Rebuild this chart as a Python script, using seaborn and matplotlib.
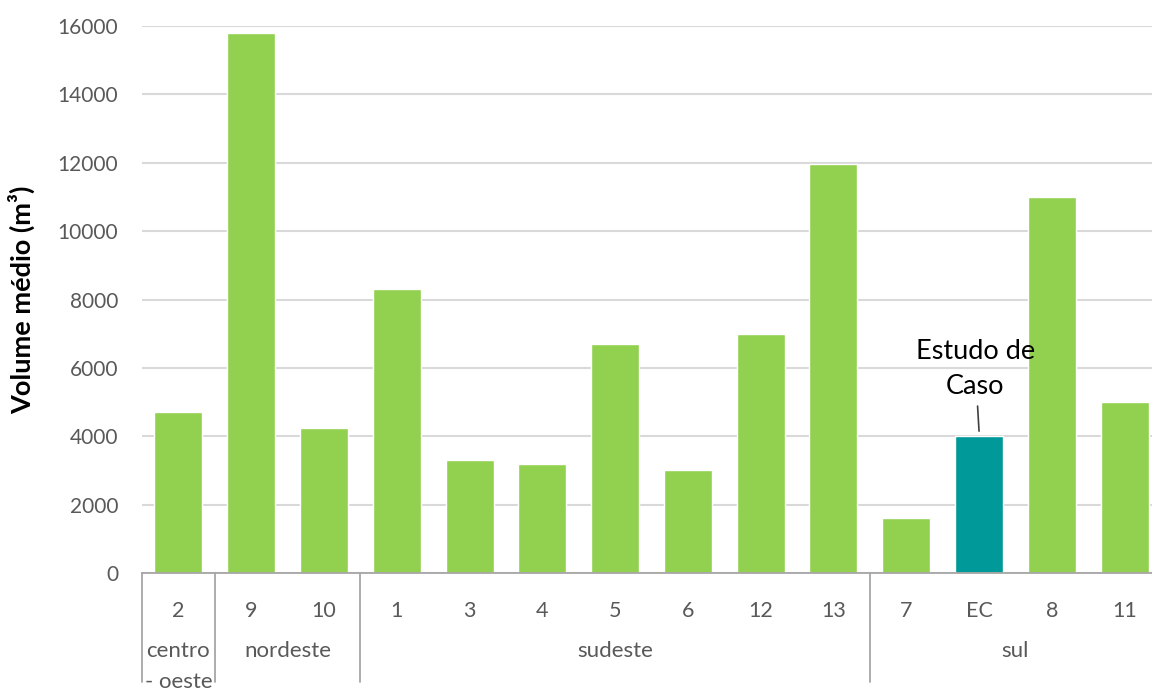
import pandas as pd
import matplotlib.pyplot as plt
import matplotlib.transforms as mtransforms
import seaborn as sns

# Chart data
categorias = ['2', '9', '10', '1', '3', '4', '5', '6', '12', '13', '7', 'EC', '8', '11']
volumes = [4700, 15800, 4250, 8300, 3300, 3200, 6700, 3000, 7000, 11950, 1600, 4000, 11000, 5000]
regioes = ['centro\n- oeste', 'nordeste', 'sudeste', 'sul']
n_por_regiao = [1, 2, 7, 4]
yticks = [0, 2000, 4000, 6000, 8000, 10000, 12000, 14000, 16000]

df = pd.DataFrame({'cat': categorias, 'vol': volumes})
df['tipo'] = ['caso' if c == 'EC' else 'outro' for c in categorias]

sns.set_style('white')
plt.rcParams['font.family'] = ['Lato', 'DejaVu Sans']

fig = plt.figure(figsize=(11.52, 6.88), dpi=100)
# plot area runs a little past the right edge of the picture, as in the original
ax = fig.add_axes([142 / 1152, 1 - 573 / 688, 1019 / 1152, 547 / 688])

sns.barplot(data=df, x='cat', y='vol', hue='tipo', dodge=False, width=0.66,
            palette={'outro': '#92d050', 'caso': '#009999'}, legend=False, ax=ax,
            saturation=1)

ax.set_ylim(0, 16000)
ax.set_xlim(-0.5, len(categorias) - 0.5)
ax.set_yticks(yticks)
ax.set_yticklabels([str(t) for t in yticks], fontsize=15, color='#595959')
ax.tick_params(axis='y', length=0, pad=17)
ax.tick_params(axis='x', length=0, pad=20, labelsize=15.5, labelcolor='#595959')
ax.set_xlabel('')
ax.set_ylabel('Volume médio (m³)', fontsize=19.5, fontweight='bold', color='black', labelpad=16)
ax.yaxis.grid(True, color='#d9d9d9', linewidth=1.5)
ax.set_axisbelow(True)
for s in ['left', 'right', 'top']:
    ax.spines[s].set_visible(False)
ax.spines['bottom'].set_color('#a6a6a6')
ax.spines['bottom'].set_linewidth(1.3)

# second level of the category axis
trans = mtransforms.blended_transform_factory(ax.transData, ax.transAxes)
inicio = -0.5
ax.plot([inicio, inicio], [0, -0.2], transform=trans, color='#a6a6a6', lw=1.3, clip_on=False)
for nome, n in zip(regioes, n_por_regiao):
    fim = inicio + n
    ax.plot([fim, fim], [0, -0.2], transform=trans, color='#a6a6a6', lw=1.3, clip_on=False)
    ax.text((inicio + fim) / 2, -0.125, nome, transform=trans, ha='center', va='top',
            fontsize=16, color='#595959', linespacing=1.65)
    inicio = fim

# annotation for the case study bar
i_ec = categorias.index('EC')
ax.annotate('Estudo de\nCaso', xy=(i_ec, volumes[i_ec] + 150), xytext=(i_ec - 0.05, volumes[i_ec] + 1100),
            ha='center', va='bottom', fontsize=19.5, color='black', linespacing=1.5,
            arrowprops=dict(arrowstyle='-', color='#404040', lw=1.2, shrinkA=3, shrinkB=0))

plt.savefig('out.png', dpi=100)
